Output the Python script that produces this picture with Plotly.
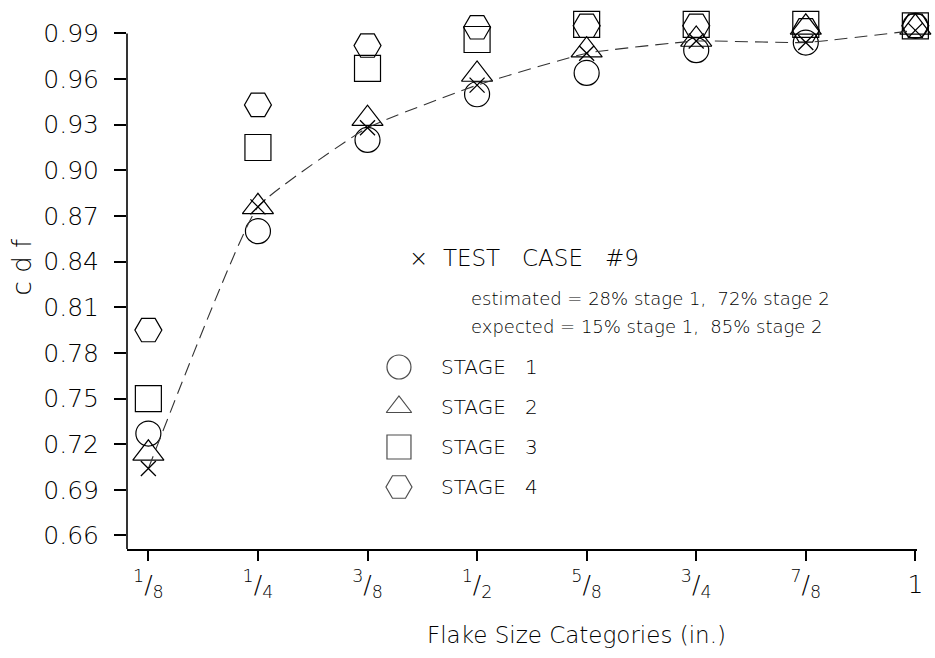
import plotly.graph_objects as go

# ---------------- data ----------------
categories = ["1/8", "1/4", "3/8", "1/2", "5/8", "3/4", "7/8", "1"]
tick_text = ["<sup>1</sup>/<sub>8</sub>", "<sup>1</sup>/<sub>4</sub>", "<sup>3</sup>/<sub>8</sub>",
             "<sup>1</sup>/<sub>2</sub>", "<sup>5</sup>/<sub>8</sub>", "<sup>3</sup>/<sub>4</sub>",
             "<sup>7</sup>/<sub>8</sub>", "1"]
test_case = [0.704, 0.876, 0.928, 0.956, 0.977, 0.985, 0.984, 0.992]
stage1 = [0.727, 0.860, 0.920, 0.950, 0.964, 0.979, 0.984, 0.995]
stage2 = [0.714, 0.876, 0.934, 0.963, 0.979, 0.986, 0.994, 0.994]
stage3 = [0.750, 0.915, 0.967, 0.986, 0.996, 0.996, 0.996, 0.995]
stage4 = [0.795, 0.943, 0.982, 0.994, 0.995, 0.995, 0.992, 0.995]
y_ticks = [0.66, 0.69, 0.72, 0.75, 0.78, 0.81, 0.84, 0.87, 0.90, 0.93, 0.96, 0.99]
stage_names = ["STAGE   1", "STAGE   2", "STAGE   3", "STAGE   4"]
header = "×  TEST   CASE   #9"
note_lines = ["estimated = 28% stage 1,  72% stage 2",
              "expected = 15% stage 1,  85% stage 2"]
x_title = "Flake Size Categories (in.)"
y_title = "c d f"

# ---------------- style ----------------
FONT = "DejaVu Sans"
WEIGHT = 200
INK = "#000000"
W, H = 935, 658
ML, MR, MT, MB = 127, 15, 15, 109
Y_LO, Y_HI = 0.6511, 1.0021
x_idx = list(range(len(categories)))


def f(size):
    return dict(family=FONT, size=size, color=INK, weight=WEIGHT)


fig = go.Figure()

stage_series = [stage1, stage2, stage3, stage4]
stage_symbols = ["circle-open", "triangle-up-open", "square-open", "hexagon2-open"]
stage_sizes = [25, 27, 26, 27]

for vals, sym, sz, nm in zip(stage_series, stage_symbols, stage_sizes, stage_names):
    fig.add_trace(go.Scatter(
        x=x_idx, y=vals, mode="markers", name=nm, cliponaxis=False,
        marker=dict(symbol=sym, size=sz, color=INK, line=dict(width=1.2, color="#1a1a1a")),
        showlegend=False))

fig.add_trace(go.Scatter(
    x=x_idx, y=test_case, mode="lines+markers", name="TEST CASE #9", cliponaxis=False,
    line=dict(color="#333333", width=1.1, dash="13px,7px", shape="spline", smoothing=0.35),
    marker=dict(symbol="x-thin-open", size=15, color=INK, line=dict(width=1.3, color="#1a1a1a")),
    showlegend=False))

# ---- legend key (own pixel-space overlay axes) ----
key_x = 400
key_rows = [367, 407, 447, 487]
fig.add_trace(go.Scatter(
    x=[key_x] * len(key_rows), y=key_rows, xaxis="x2", yaxis="y2", mode="markers",
    cliponaxis=False, showlegend=False, hoverinfo="skip",
    marker=dict(symbol=stage_symbols, size=[24, 22, 24, 26], color=INK,
                line=dict(width=1.2, color="#1a1a1a"))))

ann = []
for r, nm in zip(key_rows, stage_names):
    ann.append(dict(x=440, y=r, xref="x2", yref="y2", text=nm, showarrow=False,
                    xanchor="left", yanchor="middle", font=f(20)))
ann.append(dict(x=408, y=258, xref="x2", yref="y2", text=header, showarrow=False,
                xanchor="left", yanchor="middle", font=f(23)))
for r, t in zip([298, 326], note_lines):
    ann.append(dict(x=470, y=r, xref="x2", yref="y2", text=t, showarrow=False,
                    xanchor="left", yanchor="middle", font=f(18)))
# axis titles (paper coords)
PW, PH = W - ML - MR, H - MB - MT
ann.append(dict(x=(22 - ML) / PW, y=(H - MB - 267) / PH, xref="paper", yref="paper",
                text=y_title, showarrow=False, textangle=-90,
                xanchor="center", yanchor="middle", font=f(26)))
ann.append(dict(x=(578 - ML) / PW, y=(H - MB - 635) / PH, xref="paper", yref="paper",
                text=x_title, showarrow=False, xanchor="center", yanchor="middle",
                font=f(23)))

fig.update_layout(
    width=W, height=H,
    margin=dict(l=ML, r=MR, t=MT, b=MB),
    paper_bgcolor="white", plot_bgcolor="white",
    font=dict(family=FONT, color=INK),
    showlegend=False,
    annotations=ann,
    shapes=[dict(type="line", xref="paper", yref="y", x0=0, x1=0, y0=Y_LO, y1=max(y_ticks),
                 line=dict(color=INK, width=1.6))],
    xaxis=dict(range=[-0.195, 7.015], tickvals=x_idx, ticktext=tick_text,
               showgrid=False, zeroline=False, showline=True, linecolor=INK, linewidth=1.6,
               ticks="outside", ticklen=10, tickwidth=1.6, tickcolor=INK,
               tickfont=f(25), ticklabelstandoff=2),
    yaxis=dict(range=[Y_LO, Y_HI], tickvals=y_ticks, tickformat=".2f",
               showgrid=False, zeroline=False, showline=False,
               ticks="outside", ticklen=12, tickwidth=1.6, tickcolor=INK,
               tickfont=f(25), ticklabelstandoff=10),
    xaxis2=dict(overlaying="x", range=[ML, W - MR], visible=False, fixedrange=True),
    yaxis2=dict(overlaying="y", range=[H - MB, MT], visible=False, fixedrange=True),
)

fig.write_html("out.html")
